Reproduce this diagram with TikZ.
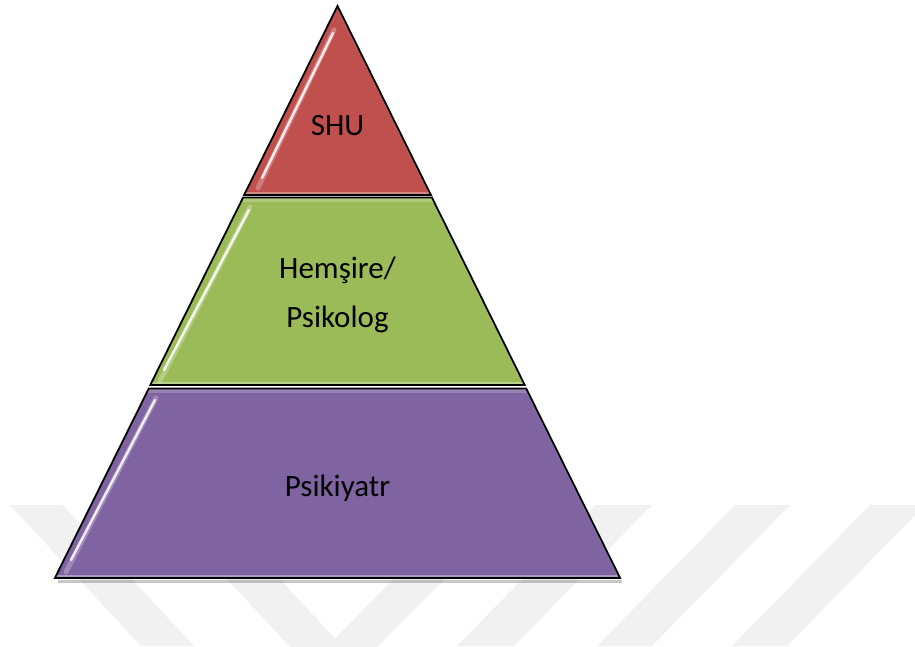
\documentclass[tikz,border=0pt]{standalone}
\usepackage{fontspec}
\setmainfont{Carlito}
\usetikzlibrary{calc}
\definecolor{tred}{HTML}{C0504D}
\definecolor{tgreen}{HTML}{9BBB59}
\definecolor{tpurple}{HTML}{8064A2}
\definecolor{wm}{HTML}{F1F1F1}
\begin{document}
\begin{tikzpicture}[x=1pt,y=-1pt,
  tier/.style={draw=black, line width=1.8pt, line join=miter},
  lbl/.style={font=\fontsize{31}{49}\selectfont, align=center, text=black, inner sep=0pt},
  gloss/.style={white, line width=2.4pt, line cap=round, opacity=0.85},
  softgloss/.style={white, line width=5pt, line cap=round, opacity=0.25},
  bevel/.style={line width=4pt, opacity=0.7},
  shadowline/.style={black, line width=3pt, opacity=0.22},
  wmark/.style={fill=wm, draw=none}]
\useasboundingbox (0,0) rectangle (915,646);
% watermark
\begin{scope}
\clip (0,0) rectangle (915,646);
\fill[wmark] (10,505) -- (63,505) -- (194,646) -- (141,646) -- cycle;
\fill[wmark] (158,505) -- (211,505) -- (335,638.5) -- (466,505) -- (519,505) -- (332,692) -- cycle;
\fill[wmark] (595,505) -- (652,505) -- (514,646) -- (457,646) -- cycle;
\fill[wmark] (735,505) -- (790,505) -- (652,646) -- (597,646) -- cycle;
\fill[wmark] (870,505) -- (925,505) -- (787,646) -- (732,646) -- cycle;
\end{scope}
% coordinates of the tiers
\coordinate (apex) at (337.5,6);
\coordinate (rl) at (244.1,195);
\coordinate (rr) at (430.9,195);
\coordinate (gtl) at (243.1,197.5);
\coordinate (gtr) at (431.9,197.5);
\coordinate (gbl) at (150.3,385);
\coordinate (gbr) at (524.7,385);
\coordinate (ptl) at (148.8,388.5);
\coordinate (ptr) at (526.2,388.5);
\coordinate (pbl) at (54.9,578);
\coordinate (pbr) at (620.1,578);
% shadows
\draw[shadowline] ($(pbl)+(3,3)$) -- ($(pbr)+(2,3)$);
% red tier
\fill[tred] (apex) -- (rr) -- (rl) -- cycle;
\begin{scope}
\clip (apex) -- (rr) -- (rl) -- cycle;
\draw[bevel, tred!55!white] (200,193.5) -- (480,193.5);
\draw[line width=3pt, tred!75!white, opacity=0.5] (apex) -- (rr);
\draw[softgloss] (258,188) -- (334,30);
\draw[gloss] (262,178) -- (333,33);
\end{scope}
\draw[tier] (apex) -- (rr) -- (rl) -- cycle;
% green tier
\fill[tgreen] (gtl) -- (gtr) -- (gbr) -- (gbl) -- cycle;
\begin{scope}
\clip (gtl) -- (gtr) -- (gbr) -- (gbl) -- cycle;
\draw[bevel, tgreen!55!white] (100,383.5) -- (580,383.5);
\draw[bevel, tgreen!60!white, opacity=0.5] (200,199.5) -- (480,199.5);
\draw[line width=3pt, tgreen!75!white, opacity=0.5] (gtr) -- (gbr);
\draw[softgloss] (160,381) -- (250,207);
\draw[gloss] (164,370) -- (249,210);
\end{scope}
\draw[tier] (gtl) -- (gtr) -- (gbr) -- (gbl) -- cycle;
% purple tier
\fill[tpurple] (ptl) -- (ptr) -- (pbr) -- (pbl) -- cycle;
\begin{scope}
\clip (ptl) -- (ptr) -- (pbr) -- (pbl) -- cycle;
\draw[bevel, tpurple!50!white] (40,576.5) -- (640,576.5);
\draw[bevel, tpurple!60!white, opacity=0.5] (100,390.5) -- (580,390.5);
\draw[line width=3pt, tpurple!75!white, opacity=0.5] (ptr) -- (pbr);
\draw[softgloss] (66,572) -- (156,398);
\draw[gloss] (71,560) -- (155,400);
\end{scope}
\draw[tier] (ptl) -- (ptr) -- (pbr) -- (pbl) -- cycle;
% labels
\node[lbl] (shu) at (337.5,126) {SHU};
\node[lbl] (hem) at (337.5,295) {Hemşire/\\Psikolog};
\node[lbl] (psi) at (337.5,488) {Psikiyatr};
\end{tikzpicture}
\end{document}
